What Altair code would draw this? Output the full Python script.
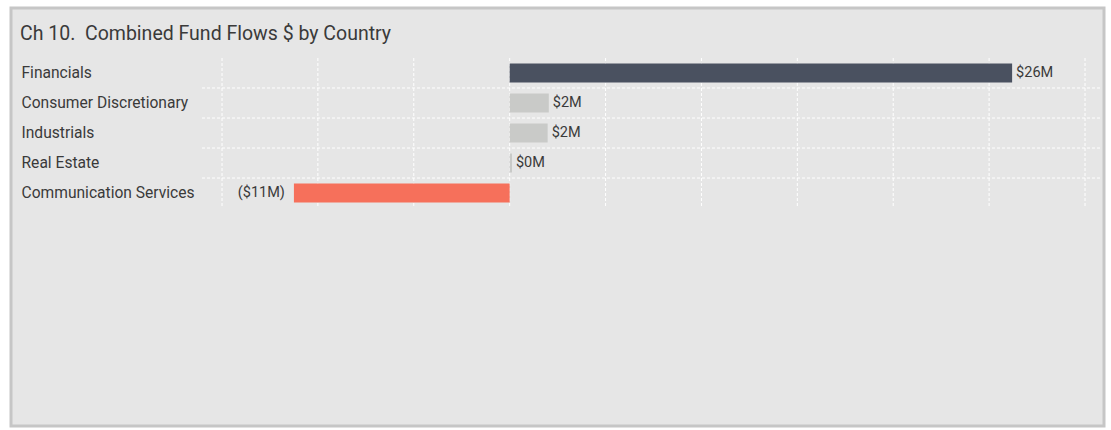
import altair as alt
import pandas as pd

categories = ["Financials", "Consumer Discretionary", "Industrials", "Real Estate", "Communication Services"]
values = [26.2, 2.04, 1.98, 0.12, -11.25]
grid_ticks = [-15, -10, -5, 0, 5, 10, 15, 20, 25, 30]

df = pd.DataFrame({"category": categories, "value": values})
grid_df = pd.DataFrame({"tick": grid_ticks})
sep_df = pd.DataFrame({"category": categories[1:]})

FONT = "Roboto"
TEXT = "#3a3a3a"

x_scale = alt.Scale(domain=[-15, 30], range=[211, 1074], nice=False, zero=False)
y_scale = alt.Scale(domain=categories, range=[50, 200], paddingInner=0.367, paddingOuter=0.183)

base = alt.Chart(df).transform_joinaggregate(vmax="max(value)").transform_calculate(
    kind="datum.value < 0 ? 'neg' : (datum.value == datum.vmax ? 'top' : 'other')",
    label="datum.value < 0 ? '($' + format(abs(datum.value), '.0f') + 'M)' : '$' + format(datum.value, '.0f') + 'M'",
)

vgrid = alt.Chart(grid_df).mark_rule(color="white", strokeDash=[3, 2], strokeWidth=1).encode(
    x=alt.X("tick:Q", scale=x_scale, axis=None),
    y=alt.value(50),
    y2=alt.value(199),
)

hgrid = alt.Chart(sep_df).mark_rule(color="white", strokeDash=[3, 2], strokeWidth=1, yOffset=-15).encode(
    y=alt.Y("category:N", scale=y_scale),
    x=alt.value(191),
    x2=alt.value(1089),
)

bars = base.mark_bar().encode(
    y=alt.Y(
        "category:N",
        scale=y_scale,
        axis=alt.Axis(
            title=None,
            ticks=False,
            domain=False,
            grid=False,
            labelAlign="left",
            labelPadding=-10,
            labelFont=FONT,
            labelFontSize=15.6,
            labelColor=TEXT,
            labelLimit=300,
        ),
    ),
    x=alt.X("value:Q", scale=x_scale, axis=None),
    x2=alt.datum(0),
    color=alt.Color(
        "kind:N",
        scale=alt.Scale(domain=["top", "other", "neg"], range=["#4a5160", "#c9cac8", "#f6705b"]),
        legend=None,
    ),
)

pos_labels = base.transform_filter("datum.value >= 0").mark_text(
    align="left", baseline="middle", dx=4, font=FONT, fontSize=14.5, color=TEXT
).encode(
    y=alt.Y("category:N", scale=y_scale),
    x=alt.X("value:Q", scale=x_scale, axis=None),
    text="label:N",
)

neg_labels = base.transform_filter("datum.value < 0").mark_text(
    align="right", baseline="middle", dx=-9, font=FONT, fontSize=14.5, color=TEXT
).encode(
    y=alt.Y("category:N", scale=y_scale),
    x=alt.X("value:Q", scale=x_scale, axis=None),
    text="label:N",
)

chart = alt.layer(vgrid, hgrid, bars, pos_labels, neg_labels).properties(
    width=1093,
    height=418,
    autosize=alt.AutoSizeParams(type="none"),
    padding={"left": 11, "top": 8, "right": 7, "bottom": 4},
    background="white",
    title=alt.TitleParams(
        "Ch 10.\u00a0 Combined Fund Flows $ by Country",
        anchor="start",
        frame="group",
        orient="top",
        offset=-31,
        dx=9,
        dy=20,
        baseline="alphabetic",
        font=FONT,
        fontSize=19.5,
        fontWeight="normal",
        color=TEXT,
    ),
).configure_view(
    fill="#e6e6e6", stroke="#c6c6c6", strokeWidth=3
)

chart.save("out.html", embed_options={"renderer": "svg", "actions": False})
